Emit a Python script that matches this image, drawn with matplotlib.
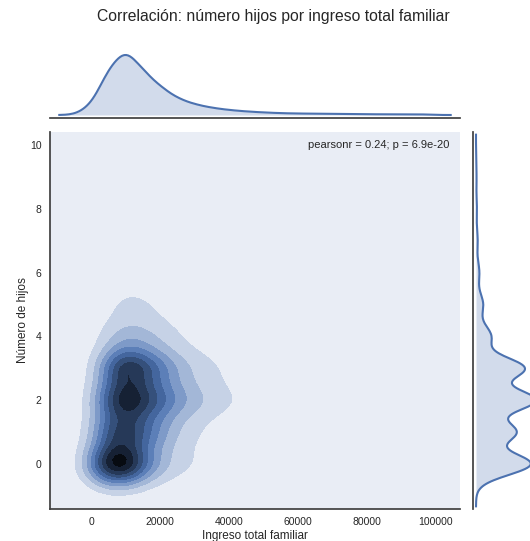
import colorsys
import numpy as np
import matplotlib
matplotlib.use("Agg")
import matplotlib.pyplot as plt
import matplotlib.colors as mcolors

plt.rcParams['font.family'] = ['Liberation Sans', 'DejaVu Sans']

titulo = "Correlación: número hijos por ingreso total familiar"
etiqueta_x = "Ingreso total familiar"
etiqueta_y = "Número de hijos"
texto_pearson = "pearsonr = 0.24; p = 6.9e-20"

# centros de los tramos de ingreso (estimados a partir de la figura)
ingresos = [0, 5000, 10000, 15000, 20000, 25000, 30000, 35000, 40000, 45000,
            50000, 55000, 60000, 65000, 70000, 75000, 80000, 85000, 90000, 95000]
hijos = [0, 1, 2, 3, 4, 5, 6, 7, 8, 9]

# número de hogares por tramo de ingreso, una lista por número de hijos
hogares_0 = [40, 140, 145, 65, 30, 16, 11, 8, 6, 5, 4, 4, 3, 3, 3, 3, 2, 2, 2, 2]
hogares_1 = [15, 80, 100, 70, 42, 20, 12, 7, 4, 3, 2, 1, 1, 1, 0, 0, 0, 0, 0, 0]
hogares_2 = [12, 80, 128, 95, 70, 45, 30, 20, 13, 9, 7, 5, 4, 3, 3, 3, 3, 2, 2, 2]
hogares_3 = [5, 58, 125, 87, 58, 32, 20, 13, 9, 6, 5, 4, 3, 3, 2, 1, 1, 2, 1, 2]
hogares_4 = [2, 18, 32, 28, 19, 11, 7, 5, 4, 3, 2, 1, 1, 1, 1, 0, 0, 0, 0, 0]
hogares_5 = [1, 8, 16, 13, 9, 6, 4, 3, 2, 1, 1, 0, 0, 0, 0, 0, 0, 0, 0, 0]
hogares_6 = [1, 3, 7, 6, 4, 3, 2, 2, 1, 1, 0, 0, 0, 0, 0, 0, 0, 0, 0, 0]
hogares_7 = [0, 1, 3, 3, 2, 2, 1, 1, 1, 1, 0, 0, 0, 0, 0, 0, 0, 0, 0, 0]
hogares_8 = [0, 1, 2, 1, 1, 1, 1, 0, 1, 0, 0, 0, 0, 0, 0, 0, 0, 0, 0, 0]
hogares_9 = [0, 0, 1, 1, 1, 1, 0, 0, 0, 0, 0, 0, 0, 0, 0, 0, 0, 0, 0, 1]

# anchos de banda y cortes (conjunta y marginales)
bw_conj = (4000, 0.47)
corte_conj = (3, 3)
bw_marg = (3100, 0.34)
corte_marg = (3, 3.9)
n_niveles = 10

color = "#4C72B0"
texto = '#262626'

tabla = np.array([hogares_0, hogares_1, hogares_2, hogares_3, hogares_4,
                  hogares_5, hogares_6, hogares_7, hogares_8, hogares_9], float)
xs = np.array(ingresos, float)
ys = np.array(hijos, float)
px, py = np.meshgrid(xs, ys)
px, py, pw = px.ravel(), py.ravel(), tabla.ravel()


def kde_1d(grid, valores, pesos, bw):
    d = (grid[:, None] - valores[None, :]) / bw
    return (np.exp(-0.5 * d ** 2) * pesos).sum(1) / (pesos.sum() * bw * np.sqrt(2 * np.pi))


def kde_2d(gx, gy, bx, by):
    kx = np.exp(-0.5 * ((gx[:, None] - px[None, :]) / bx) ** 2)
    ky = np.exp(-0.5 * ((gy[:, None] - py[None, :]) / by) ** 2)
    return (ky * pw) @ kx.T / (pw.sum() * bx * by * 2 * np.pi)


gx = np.linspace(xs.min() - corte_conj[0] * bw_conj[0],
                 xs.max() + corte_conj[0] * bw_conj[0], 100)
gy = np.linspace(ys.min() - corte_conj[1] * bw_conj[1],
                 ys.max() + corte_conj[1] * bw_conj[1], 100)
z = kde_2d(gx, gy, *bw_conj)
paso = z.max() / 9.4
niveles = paso * np.arange(n_niveles + 1)

h, l, s = colorsys.rgb_to_hls(*mcolors.to_rgb(color))
cmap = mcolors.LinearSegmentedColormap.from_list(
    "azul", [colorsys.hls_to_rgb(h, li, s) for li in np.linspace(1, 0, 12)])
norma = mcolors.Normalize(vmin=-0.15 * paso, vmax=niveles[-1])

fig = plt.figure(figsize=(5.30, 5.41), dpi=100)
W, H = 530, 541
ax = fig.add_axes([50 / W, 1 - 509 / H, 410 / W, 377 / H])
ax_top = fig.add_axes([50 / W, 1 - 118 / H, 410 / W, 66 / H], sharex=ax)
ax_der = fig.add_axes([473 / W, 1 - 509 / H, 66 / W, 377 / H], sharey=ax)

ax.contourf(gx, gy, z, levels=niveles, cmap=cmap, norm=norma)
ax.set_xlim(gx[0], gx[-1])
ax.set_ylim(gy[0], gy[-1])
ax.set_xticks([0, 20000, 40000, 60000, 80000, 100000])
ax.set_yticks([0, 2, 4, 6, 8, 10])
ax.tick_params(length=0, labelsize=7.5, colors=texto, pad=6)
ax.set_xlabel(etiqueta_x, fontsize=8.5, color=texto, labelpad=2)
ax.set_ylabel(etiqueta_y, fontsize=8.5, color=texto, labelpad=1)
ax.text(0.975, 0.978, texto_pearson, transform=ax.transAxes, ha='right', va='top',
        fontsize=8, color=texto)

# marginal superior (ingreso)
mx = np.linspace(xs.min() - corte_marg[0] * bw_marg[0],
                 xs.max() + corte_marg[0] * bw_marg[0], 200)
dx = kde_1d(mx, px, pw, bw_marg[0])
ax_top.plot(mx, dx, color=color, lw=1.5)
ax_top.fill_between(mx, 0, dx, color=color, alpha=0.25, lw=0)
ax_top.set_ylim(-0.05 * dx.max(), 1.05 * dx.max())

# marginal derecha (hijos)
my = np.linspace(ys.min() - corte_marg[1] * bw_marg[1],
                 ys.max() + corte_marg[1] * bw_marg[1], 300)
dy = kde_1d(my, py, pw, bw_marg[1])
ax_der.plot(dy, my, color=color, lw=1.5)
ax_der.fill_betweenx(my, 0, dy, color=color, alpha=0.25, lw=0)
ax_der.set_xlim(-0.05 * dy.max(), 1.05 * dy.max())

for a in (ax, ax_top, ax_der):
    for sp in a.spines.values():
        sp.set_visible(False)
        sp.set_color('.25')
        sp.set_linewidth(1.25)
ax.spines['left'].set_visible(True)
ax.spines['bottom'].set_visible(True)
ax_top.spines['bottom'].set_visible(True)
ax_der.spines['left'].set_visible(True)
for a in (ax_top, ax_der):
    a.tick_params(left=False, bottom=False, labelleft=False, labelbottom=False)
    a.set_facecolor('white')

fig.text(273 / W, 1 - 17 / H, titulo, ha='center', va='center', fontsize=11.3,
         color=texto)

fig.savefig("out.png", dpi=100)
